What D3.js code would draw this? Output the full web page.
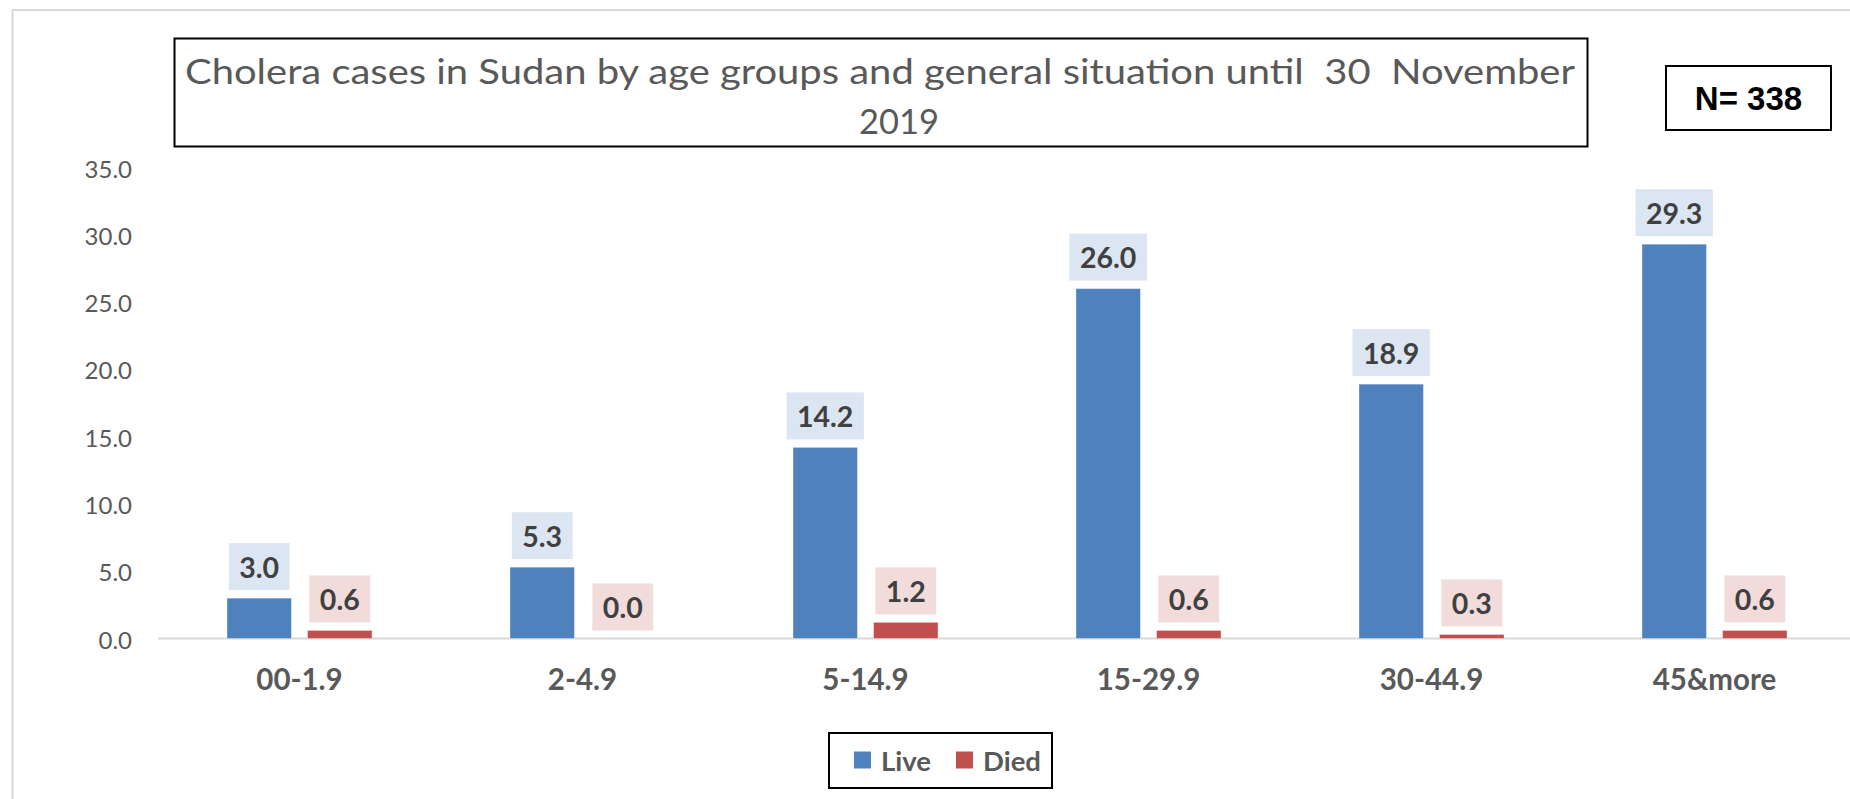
<!DOCTYPE html>
<html>
<head>
<meta charset="utf-8">
<script src="https://cdn.jsdelivr.net/npm/d3@7/dist/d3.min.js"></script>
<style>
  html, body { margin: 0; padding: 0; background: #ffffff; overflow: hidden; }
  svg { display: block; }
  text { font-family: Lato, "Open Sans", sans-serif; }
</style>
</head>
<body>
<svg id="chart" width="1850" height="799"></svg>
<script>
// ---- data ----
const categories = ["00-1.9", "2-4.9", "5-14.9", "15-29.9", "30-44.9", "45&more"];
const seriesNames = ["Live", "Died"];
const liveValues = [3.0, 5.3, 14.2, 26.0, 18.9, 29.3];
const diedValues = [0.6, 0.0, 1.2, 0.6, 0.3, 0.6];
const yTickValues = [0, 5, 10, 15, 20, 25, 30, 35];
const titleLines = ["Cholera cases in Sudan by age groups and general situation until  30  November", "2019"];
const nLabel = "N= 338";

// ---- styling ----
const colors = { Live: "#4F81BD", Died: "#C0504D" };
const labelFill = { Live: "#DCE6F2", Died: "#F2DCDB" };

const svg = d3.select("#chart");

// outer chart frame (cropped on right/bottom in the reference)
svg.append("rect")
  .attr("x", 12.5).attr("y", 10).attr("width", 2000).attr("height", 1000)
  .attr("fill", "#ffffff").attr("stroke", "#D9D9D9").attr("stroke-width", 2);

// scales
const plotLeft = 158, step = 283;
const x0 = d3.scaleBand()
  .domain(categories)
  .range([plotLeft, plotLeft + step * categories.length])
  .paddingInner(0.4876)
  .paddingOuter(0.2438);
const x1 = d3.scaleBand()
  .domain(seriesNames)
  .range([0, x0.bandwidth()])
  .paddingInner(0.2);
const y = d3.scaleLinear().domain([0, 35]).range([638.5, 167.5]);

// y axis labels
const yAxis = d3.axisLeft(y).tickValues(yTickValues).tickFormat(d3.format(".1f")).tickSize(0).tickPadding(0);
const yg = svg.append("g").attr("transform", "translate(132,0)").call(yAxis);
yg.select(".domain").remove();
yg.selectAll("text")
  .attr("x", 0).attr("dy", null)
  .attr("dominant-baseline", "central")
  .style("font-family", "Lato, sans-serif")
  .style("font-size", "24px")
  .attr("fill", "#595959");

// x axis baseline
svg.append("line")
  .attr("x1", plotLeft).attr("x2", 1850)
  .attr("y1", y(0)).attr("y2", y(0))
  .attr("stroke", "#D9D9D9").attr("stroke-width", 2);

// x axis labels
const xAxis = d3.axisBottom(x0).tickSize(0).tickPadding(0);
const xg = svg.append("g").attr("transform", `translate(0,${y(0)})`).call(xAxis);
xg.select(".domain").remove();
xg.selectAll("text")
  .attr("y", 51.5).attr("dy", null)
  .style("font-family", "Lato, sans-serif")
  .style("font-size", "29.5px")
  .style("font-weight", "bold")
  .attr("fill", "#595959");

// bars
const rows = categories.map((c, i) => ({ cat: c, values: [
  { key: "Live", value: liveValues[i] },
  { key: "Died", value: diedValues[i] }
]}));

const groups = svg.append("g").selectAll("g")
  .data(rows).join("g")
  .attr("transform", d => `translate(${x0(d.cat)},0)`);

groups.selectAll("rect.bar")
  .data(d => d.values).join("rect")
  .attr("class", "bar")
  .attr("x", d => x1(d.key))
  .attr("width", x1.bandwidth())
  .attr("y", d => y(d.value))
  .attr("height", d => y(0) - y(d.value))
  .attr("fill", d => colors[d.key])
  .attr("stroke", "rgba(255,255,255,0.35)")
  .attr("stroke-width", 1);

// data labels with light background boxes
const labelH = 47, labelGap = 8, labelPad = 10.5;
groups.each(function(row) {
  const g = d3.select(this);
  row.values.forEach(v => {
    const cx = x1(v.key) + x1.bandwidth() / 2;
    const bottom = y(v.value) - labelGap;
    const lg = g.append("g");
    const box = lg.append("rect").attr("fill", labelFill[v.key]);
    const t = lg.append("text")
      .attr("x", cx)
      .attr("y", bottom - labelH / 2)
      .attr("text-anchor", "middle")
      .attr("dominant-baseline", "central")
      .style("font-size", "28.5px")
      .style("font-weight", "bold")
      .attr("fill", "#404040")
      .text(d3.format(".1f")(v.value));
    const w = t.node().getComputedTextLength() + labelPad * 2;
    box.attr("x", cx - w / 2).attr("y", bottom - labelH)
      .attr("width", w).attr("height", labelH);
  });
});

// title box
svg.append("rect")
  .attr("x", 174.5).attr("y", 38.5).attr("width", 1413).attr("height", 108)
  .attr("fill", "#ffffff").attr("stroke", "#000000").attr("stroke-width", 2);
const title1 = svg.append("text")
  .attr("x", 185).attr("y", 84)
  .attr("xml:space", "preserve")
  .style("white-space", "pre")
  .style("font-size", "34.5px")
  .attr("fill", "#595959")
  .text(titleLines[0]);
title1.attr("textLength", 1390).attr("lengthAdjust", "spacingAndGlyphs");
svg.append("text")
  .attr("x", 899).attr("y", 133.5)
  .attr("text-anchor", "middle")
  .style("font-size", "34.5px")
  .attr("fill", "#595959")
  .text(titleLines[1]);

// N box
svg.append("rect")
  .attr("x", 1666).attr("y", 66).attr("width", 165).attr("height", 64)
  .attr("fill", "#ffffff").attr("stroke", "#000000").attr("stroke-width", 2);
svg.append("text")
  .attr("x", 1748.5).attr("y", 110)
  .attr("text-anchor", "middle")
  .style("font-family", "'Liberation Sans', Arial, sans-serif")
  .style("font-size", "33px")
  .style("font-weight", "bold")
  .attr("fill", "#000000")
  .text(nLabel);

// legend
const legend = svg.append("g");
legend.append("rect")
  .attr("x", 829).attr("y", 733).attr("width", 223).attr("height", 55)
  .attr("fill", "#ffffff").attr("stroke", "#000000").attr("stroke-width", 2);
const legendX = { Live: 854, Died: 956 };
seriesNames.forEach(s => {
  legend.append("rect")
    .attr("x", legendX[s]).attr("y", 751.5).attr("width", 17).attr("height", 17)
    .attr("fill", colors[s]);
  legend.append("text")
    .attr("x", legendX[s] + 27).attr("y", 770.5)
    .style("font-size", "27.5px")
    .style("font-weight", "bold")
    .attr("fill", "#595959")
    .text(s);
});
</script>
</body>
</html>
